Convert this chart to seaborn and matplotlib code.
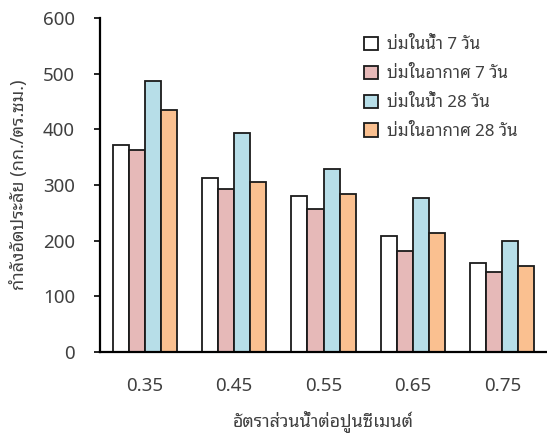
import matplotlib
matplotlib.use("Agg")
import matplotlib.pyplot as plt
import seaborn as sns
import pandas as pd

# water-cement ratios and compressive strength (ksc) for each curing condition
ratios = ["0.35", "0.45", "0.55", "0.65", "0.75"]
series = ["บ่มในน้ำ 7 วัน", "บ่มในอากาศ 7 วัน", "บ่มในน้ำ 28 วัน", "บ่มในอากาศ 28 วัน"]
water_7 = [371, 313, 280, 209, 159]
air_7 = [363, 292, 256, 181, 143]
water_28 = [487, 393, 329, 277, 199]
air_28 = [434, 305, 283, 214, 155]
colors = ["#FFFFFF", "#E6B9B8", "#B7DEE8", "#FAC090"]
yticks = [0, 100, 200, 300, 400, 500, 600]

rows = []
for name, vals in zip(series, [water_7, air_7, water_28, air_28]):
    for r, v in zip(ratios, vals):
        rows.append({"ratio": r, "curing": name, "strength": v})
df = pd.DataFrame(rows)

sns.set_style("white")
plt.rcParams["font.family"] = ["Noto Sans Thai Looped", "Noto Sans", "DejaVu Sans"]
text_color = "#404040"

fig = plt.figure(figsize=(5.47, 4.37), dpi=100)
ax = fig.add_axes([100 / 547, 1 - 352 / 437, 447 / 547, 334 / 437])

sns.barplot(data=df, x="ratio", y="strength", hue="curing", order=ratios,
            hue_order=series, palette=colors, edgecolor="#1a1a1a",
            linewidth=1.3, width=0.72, ax=ax, saturation=1)

ax.set_xlim(-0.5, 4.5)
ax.set_ylim(0, 600)
ax.set_yticks(yticks)
ax.set_yticklabels([str(t) for t in yticks])

for s in ["top", "right"]:
    ax.spines[s].set_visible(False)
for s in ["left", "bottom"]:
    ax.spines[s].set_color("black")
    ax.spines[s].set_linewidth(1.6)

ax.tick_params(axis="y", direction="out", length=4, width=1.2, color="black",
               pad=14, labelsize=13.5, labelcolor=text_color, left=True)
ax.tick_params(axis="x", length=0, pad=18, labelsize=13.5, labelcolor=text_color)

ax.set_xlabel("อัตราส่วนน้ำต่อปูนซีเมนต์", fontsize=12.8, color=text_color, labelpad=11)
ax.set_ylabel("กำลังอัดประลัย (กก./ตร.ซม.)", fontsize=13, color=text_color, labelpad=11)

leg = ax.legend(loc="upper left", bbox_to_anchor=(252 / 447, 1 - 7 / 334), frameon=False,
                fontsize=12.2, handlelength=0.85, handleheight=0.85,
                handletextpad=0.5, labelspacing=0.72, borderaxespad=0.3)
for t in leg.get_texts():
    t.set_color(text_color)

fig.savefig("out.png", dpi=100)
